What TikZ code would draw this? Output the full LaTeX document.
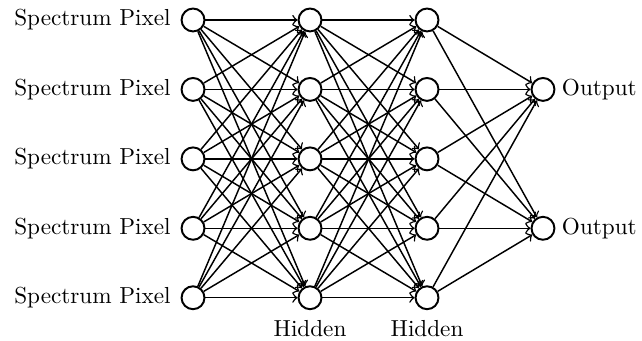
\documentclass[tikz,border=0pt]{standalone}
\usepackage{tikz}
\usetikzlibrary{positioning}

\begin{document}
\begin{tikzpicture}[
    font=\fontsize{9.5}{11}\selectfont,
    neuron/.style={circle, draw, thick, fill=white, minimum size=0.33cm, inner sep=0pt},
    link/.style={->, semithick},
    label distance=-0.03cm
  ]
  \useasboundingbox (-2.78,0.288) rectangle (6.466,-4.62);
  % input layer
  \foreach \i in {1,...,5}
    \node[neuron, label={[label distance=0.02cm]left:Spectrum Pixel}] (in-\i) at (0,{1-\i}) {};
  % hidden layers
  \foreach \i in {1,...,5} {
    \node[neuron] (ha-\i) at (1.685,{1-\i}) {};
    \node[neuron] (hb-\i) at (3.37,{1-\i}) {};
  }
  % output layer
  \node[neuron, label=right:Output] (out-1) at (5.04,-1) {};
  \node[neuron, label=right:Output] (out-2) at (5.04,-3) {};
  % connections
  \foreach \i in {1,...,5}
    \foreach \j in {1,...,5} {
      \draw[link] (in-\i) -- (ha-\j);
      \draw[link] (ha-\i) -- (hb-\j);
    }
  \foreach \i in {1,...,5}
    \foreach \j in {1,2}
      \draw[link] (hb-\i) -- (out-\j);
  \node[below=0.02cm of ha-5] (lab-a) {Hidden};
  \node[below=0.02cm of hb-5] (lab-b) {Hidden};
\end{tikzpicture}
\end{document}
